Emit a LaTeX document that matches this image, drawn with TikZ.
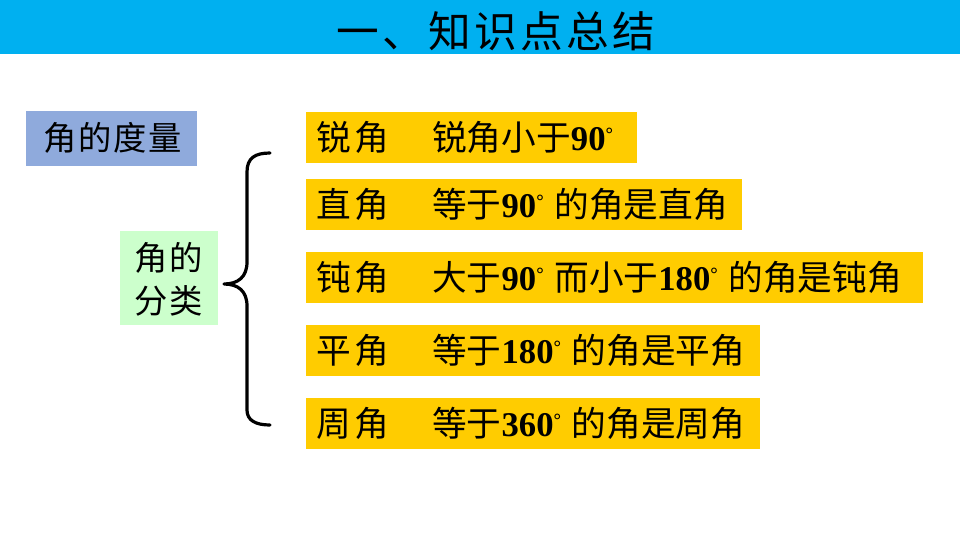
\documentclass[tikz,border=0pt]{standalone}
\usepackage{fontspec}
\setmainfont{Noto Sans CJK SC}
\newfontfamily\titlefont{Noto Sans CJK SC}[LetterSpace=8]
\newfontfamily\sidefont{Noto Sans CJK SC}[LetterSpace=5]
\newfontfamily\numf{Liberation Serif}
\definecolor{titlebg}{RGB}{0,176,240}
\definecolor{bluebg}{RGB}{143,170,220}
\definecolor{greenbg}{RGB}{204,255,204}
\definecolor{ybg}{RGB}{255,204,0}
\newcommand\degsym{\raisebox{7.5pt}{\fontsize{14pt}{14pt}\numf\bfseries °}}
\newcommand\nm[1]{{\numf\bfseries #1}\degsym}
\newcommand\lead[2]{\makebox[87pt][l]{#1\hspace{3pt}#2}}
\newcommand\gap{\hspace{8pt}}
\tikzset{
  ybox/.style={fill=ybg, inner sep=0pt, minimum height=38.25pt, anchor=west},
  ytext/.style={anchor=west, inner sep=0pt, font=\fontsize{26pt}{30pt}\selectfont},
  sidetext/.style={font=\sidefont\fontsize{25pt}{32pt}\selectfont, align=center, inner sep=0pt},
}
\begin{document}
\begin{tikzpicture}[x=0.75pt,y=-0.75pt]
\useasboundingbox (0,0) rectangle (960,540);
% title bar
\node[fill=titlebg, inner sep=0pt, minimum width=720pt, minimum height=40.5pt, anchor=north west] (bar) at (0,0) {};
\node[font=\titlefont\fontsize{32pt}{36pt}\selectfont, inner sep=0pt] (title) at (496,31) {一、知识点总结};
% left boxes
\node[fill=bluebg, inner sep=0pt, minimum width=128.25pt, minimum height=41.25pt] (measure) at (111.5,138.5) {};
\node[sidetext] (measuret) at (113,138) {角的度量};
\node[fill=greenbg, inner sep=0pt, minimum width=73.5pt, minimum height=70.5pt] (classify) at (169,278) {};
\node[sidetext] (classifyt) at (169,279) {角的\\分类};
% brace
\draw[line width=2.4pt, line cap=round, line join=round]
  (270,153) .. controls (255,153) and (247,158) .. (247,172) -- (247,262)
  .. controls (247,277) and (238,284) .. (224,284)
  .. controls (238,284) and (247,291) .. (247,306) -- (247,410)
  .. controls (247,420) and (255,425) .. (270,425);
% yellow boxes
\node[ybox, minimum width=248.25pt] (b1) at (306,137.5) {};
\node[ybox, minimum width=327pt] (b2) at (306,204.5) {};
\node[ybox, minimum width=462.75pt] (b3) at (306,277.5) {};
\node[ybox, minimum width=340.5pt] (b4) at (306,350.5) {};
\node[ybox, minimum width=340.5pt] (b5) at (306,423.5) {};
\node[ytext] (t1) at ([xshift=7.5pt]b1.west) {\lead{锐}{角}锐角小于\nm{90}};
\node[ytext] (t2) at ([xshift=7.5pt]b2.west) {\lead{直}{角}等于\nm{90}\gap 的角是直角};
\node[ytext] (t3) at ([xshift=7.5pt]b3.west) {\lead{钝}{角}大于\nm{90}\gap 而小于\nm{180}\gap 的角是钝角};
\node[ytext] (t4) at ([xshift=7.5pt]b4.west) {\lead{平}{角}等于\nm{180}\gap 的角是平角};
\node[ytext] (t5) at ([xshift=7.5pt]b5.west) {\lead{周}{角}等于\nm{360}\gap 的角是周角};
\end{tikzpicture}
\end{document}
